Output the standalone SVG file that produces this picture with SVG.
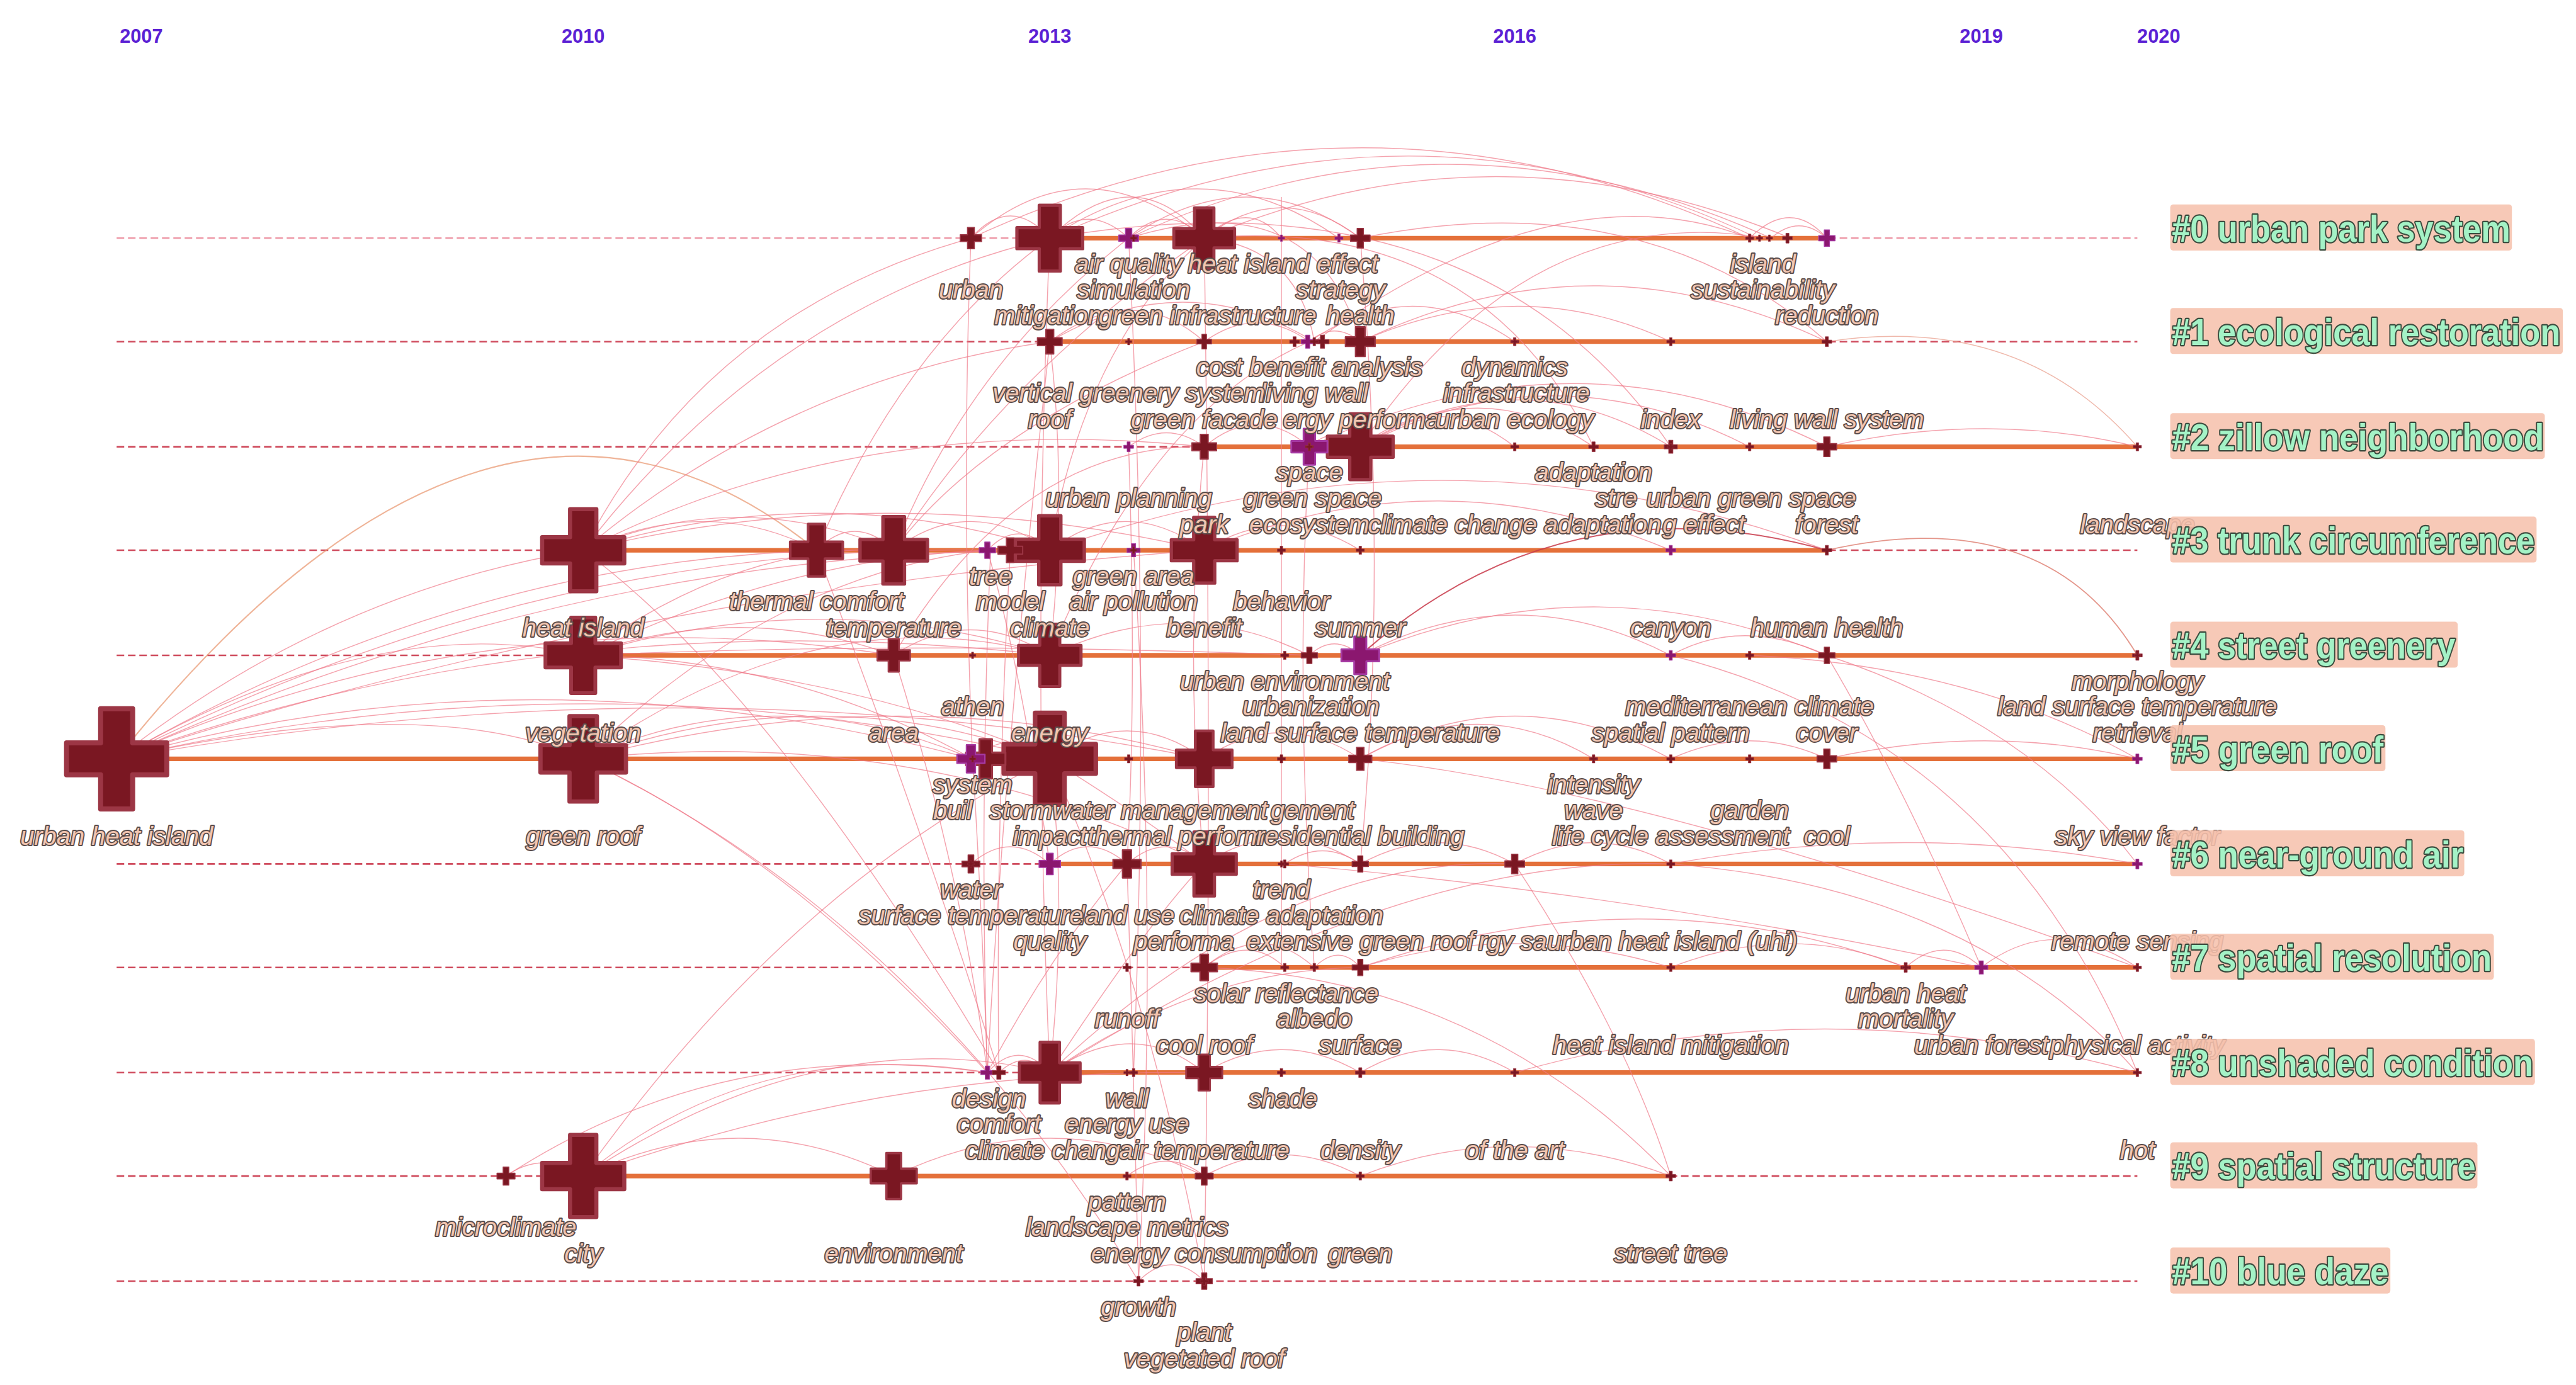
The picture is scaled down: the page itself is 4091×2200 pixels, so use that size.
<svg xmlns="http://www.w3.org/2000/svg" width="4091" height="2200" viewBox="0 0 4091 2200">
<defs>
<style>
.k{font-family:"Liberation Sans",Arial,sans-serif;font-style:italic;font-size:15.3px;fill:#f2c5b0;stroke:#5a4c4a;stroke-width:1.5px;paint-order:stroke fill;stroke-linejoin:round;text-anchor:middle}
.ks{text-anchor:start}
.d{fill:#7a1722;stroke:#9c3645;stroke-width:5;stroke-linejoin:round}
.m{fill:#8b176f;stroke:#a63aa3;stroke-width:5;stroke-linejoin:round}
.yr{font-family:"Liberation Sans",Arial,sans-serif;font-weight:bold;font-size:11.8px;fill:#5b21d4;text-anchor:middle}
.dash{stroke:#cf4b5d;stroke-width:1;stroke-dasharray:4.6 2.3;fill:none}
.tl{stroke:#e4703a;stroke-width:2.8;fill:none}
.cb{fill:#f6c1ad;opacity:.88}
.ct{font-family:"Liberation Sans",Arial,sans-serif;font-weight:bold;font-size:20.2px;fill:#a4f2c6;stroke:#3b4d3f;stroke-width:1.5px;paint-order:stroke fill;stroke-linejoin:round}
#connectors path{fill:none;stroke:#f07a8a;stroke-width:.55;opacity:.7}
</style>
<path id="p" d="M-16,-50H16V-16H50V16H16V50H-16V16H-50V-16H-16Z"/>
</defs>
<rect width="4091" height="2200" fill="#ffffff"/>
<g transform="scale(2.60906)">
<g id="years">
<text class="yr" x="86" y="26">2007</text>
<text class="yr" x="355" y="26">2010</text>
<text class="yr" x="639" y="26">2013</text>
<text class="yr" x="922" y="26">2016</text>
<text class="yr" x="1206" y="26">2019</text>
<text class="yr" x="1314" y="26">2020</text>
</g>
<g id="timelines">
<line class="dash" x1="71" y1="145" x2="1301" y2="145" style="stroke:#ee9aa8"/>
<line class="dash" x1="71" y1="208" x2="1301" y2="208"/>
<line class="dash" x1="71" y1="272" x2="1301" y2="272"/>
<line class="dash" x1="71" y1="335" x2="1301" y2="335"/>
<line class="dash" x1="71" y1="399" x2="1301" y2="399"/>
<line class="dash" x1="71" y1="462" x2="1301" y2="462"/>
<line class="dash" x1="71" y1="526" x2="1301" y2="526"/>
<line class="dash" x1="71" y1="589" x2="1301" y2="589"/>
<line class="dash" x1="71" y1="653" x2="1301" y2="653"/>
<line class="dash" x1="71" y1="716" x2="1301" y2="716"/>
<line class="dash" x1="71" y1="780" x2="1301" y2="780"/>
<line class="tl" x1="639" y1="145" x2="1112" y2="145"/>
<line class="tl" x1="639" y1="208" x2="1112" y2="208"/>
<line class="tl" x1="733" y1="272" x2="1301" y2="272"/>
<line class="tl" x1="355" y1="335" x2="1112" y2="335"/>
<line class="tl" x1="355" y1="399" x2="1301" y2="399"/>
<line class="tl" x1="71" y1="462" x2="1301" y2="462"/>
<line class="tl" x1="639" y1="526" x2="1301" y2="526"/>
<line class="tl" x1="733" y1="589" x2="1301" y2="589"/>
<line class="tl" x1="639" y1="653" x2="1301" y2="653"/>
<line class="tl" x1="355" y1="716" x2="1017" y2="716"/>
</g>
<g id="connectors">
<path d="M71,462 Q300,175 497,335" style="stroke:#e8946c;stroke-width:.8"/>
<path d="M71,462 Q200,360 355,335"/>
<path d="M71,462 Q230,370 355,399"/>
<path d="M71,462 Q300,330 544,335"/>
<path d="M71,462 Q330,330 601,335"/>
<path d="M71,462 Q350,335 639,335"/>
<path d="M71,462 Q300,360 544,399"/>
<path d="M71,462 Q340,365 639,399"/>
<path d="M71,462 Q320,390 592,462"/>
<path d="M71,462 Q360,395 639,462"/>
<path d="M71,462 Q420,400 733,462"/>
<path d="M71,462 Q260,420 355,462"/>
<path d="M71,462 Q380,360 733,335"/>
<path d="M355,335 Q430,190 591,145"/>
<path d="M355,335 Q470,185 639,145"/>
<path d="M355,335 Q480,230 639,208"/>
<path d="M355,335 Q520,250 733,272"/>
<path d="M355,335 Q430,300 497,335"/>
<path d="M355,335 Q450,295 544,335"/>
<path d="M355,335 Q500,290 639,335"/>
<path d="M355,335 Q540,290 733,335"/>
<path d="M355,335 Q470,420 608,653"/>
<path d="M355,399 Q450,330 544,335"/>
<path d="M355,399 Q500,330 639,335"/>
<path d="M355,399 Q450,365 544,399"/>
<path d="M355,399 Q500,355 639,399"/>
<path d="M355,399 Q560,390 797,399"/>
<path d="M355,399 Q480,400 592,462"/>
<path d="M355,399 Q520,410 639,462"/>
<path d="M355,462 Q470,410 592,462"/>
<path d="M355,462 Q500,410 639,462"/>
<path d="M355,462 Q550,410 733,462"/>
<path d="M355,462 Q560,440 733,526"/>
<path d="M355,462 Q480,520 601,653"/>
<path d="M355,462 Q560,560 693,780"/>
<path d="M355,462 Q470,350 601,335"/>
<path d="M355,462 Q500,360 639,399"/>
<path d="M355,716 Q460,630 601,653"/>
<path d="M355,716 Q500,620 639,653"/>
<path d="M355,716 Q480,540 639,462"/>
<path d="M355,716 Q540,650 733,653"/>
<path d="M308,716 Q440,630 601,653"/>
<path d="M308,716 Q330,700 355,716"/>
<path d="M497,335 Q550,210 639,145"/>
<path d="M544,335 Q590,220 687,145"/>
<path d="M544,335 Q610,230 733,145"/>
<path d="M544,335 Q600,260 733,208"/>
<path d="M544,399 Q620,270 733,272"/>
<path d="M639,335 Q660,210 733,145"/>
<path d="M639,399 Q700,250 797,208"/>
<path d="M603,335 Q596,500 601,653"/>
<path d="M615,335 Q606,500 608,653"/>
<path d="M639,145 Q628,400 639,653"/>
<path d="M591,145 Q585,300 592,462"/>
<path d="M639,208 Q612,450 601,653"/>
<path d="M687,145 Q700,400 690,653"/>
<path d="M690,335 Q705,560 693,780"/>
<path d="M733,145 Q738,480 733,780"/>
<path d="M780,120 L780,589"/>
<path d="M687,272 Q692,420 686,526"/>
<path d="M733,272 Q720,400 733,526"/>
<path d="M797,272 Q788,420 800,589"/>
<path d="M828,145 Q845,350 828,526"/>
<path d="M639,208 Q650,300 639,399"/>
<path d="M601,335 Q620,400 639,526"/>
<path d="M592,462 Q598,560 601,653"/>
<path d="M544,399 Q585,530 601,653"/>
<path d="M497,335 Q560,500 608,653"/>
<path d="M639,462 Q700,600 733,780"/>
<path d="M686,526 Q690,650 693,780"/>
<path d="M591,145 Q830,35 1065,145"/>
<path d="M639,145 Q860,45 1070,145"/>
<path d="M687,145 Q880,55 1078,145"/>
<path d="M733,145 Q910,70 1090,145"/>
<path d="M591,145 Q615,118 639,145"/>
<path d="M639,145 Q662,122 687,145"/>
<path d="M687,145 Q710,122 733,145"/>
<path d="M639,145 Q690,95 733,145"/>
<path d="M591,145 Q660,85 733,145"/>
<path d="M687,145 Q760,95 828,145"/>
<path d="M733,145 Q780,108 828,145"/>
<path d="M639,145 Q730,85 815,145"/>
<path d="M733,145 Q760,120 780,145"/>
<path d="M1065,145 Q1090,120 1112,145"/>
<path d="M1078,145 Q1095,130 1112,145"/>
<path d="M800,208 Q950,100 1065,145"/>
<path d="M828,272 Q930,120 1075,145"/>
<path d="M733,145 Q900,130 970,272"/>
<path d="M828,145 Q1000,110 1112,208"/>
<path d="M639,145 Q900,100 1017,272"/>
<path d="M687,145 Q800,110 828,208"/>
<path d="M733,145 Q790,150 800,208"/>
<path d="M639,208 Q690,170 733,208"/>
<path d="M733,208 Q765,185 797,208"/>
<path d="M797,208 Q812,195 828,208"/>
<path d="M797,208 Q860,165 922,208"/>
<path d="M828,208 Q925,165 1017,208"/>
<path d="M828,208 Q970,140 1112,208"/>
<path d="M1112,208 Q1230,190 1301,272" style="stroke:#e89a88"/>
<path d="M639,208 Q720,160 800,208"/>
<path d="M733,272 Q765,245 797,272"/>
<path d="M797,272 Q812,258 828,272"/>
<path d="M828,272 Q875,235 922,272"/>
<path d="M828,272 Q900,225 970,272"/>
<path d="M828,272 Q925,215 1017,272"/>
<path d="M828,272 Q945,210 1065,272"/>
<path d="M797,272 Q960,195 1112,272"/>
<path d="M1112,272 Q1210,250 1301,272"/>
<path d="M687,272 Q710,255 733,272"/>
<path d="M497,335 Q520,312 544,335"/>
<path d="M544,335 Q590,300 639,335"/>
<path d="M601,335 Q620,315 639,335"/>
<path d="M639,335 Q685,300 733,335"/>
<path d="M733,335 Q780,305 828,335"/>
<path d="M733,335 Q875,275 1017,335"/>
<path d="M828,399 Q950,290 1112,335" style="stroke:#c83a4a;stroke-width:.8;opacity:.85"/>
<path d="M1112,335 Q1245,305 1301,399" style="stroke:#d86a5a;stroke-width:.7"/>
<path d="M639,335 Q880,250 1112,335"/>
<path d="M544,399 Q590,368 639,399"/>
<path d="M639,399 Q720,360 797,399"/>
<path d="M797,399 Q812,385 828,399"/>
<path d="M828,399 Q922,350 1017,399"/>
<path d="M828,399 Q970,340 1112,399"/>
<path d="M1017,399 Q1060,375 1112,399"/>
<path d="M1065,399 Q1200,405 1301,462"/>
<path d="M1112,399 Q1160,480 1206,589"/>
<path d="M1112,399 Q1235,440 1301,526"/>
<path d="M1017,399 Q1220,450 1301,653"/>
<path d="M592,462 Q615,442 639,462"/>
<path d="M639,462 Q686,428 733,462"/>
<path d="M733,462 Q780,430 828,462"/>
<path d="M828,462 Q900,420 970,462"/>
<path d="M828,462 Q922,410 1017,462"/>
<path d="M1017,462 Q1065,440 1112,462"/>
<path d="M1112,462 Q1210,440 1301,462"/>
<path d="M828,462 Q1000,480 1301,589"/>
<path d="M639,462 Q700,500 733,526"/>
<path d="M591,526 Q615,505 639,526"/>
<path d="M639,526 Q662,505 686,526"/>
<path d="M686,526 Q710,505 733,526"/>
<path d="M733,526 Q780,495 828,526"/>
<path d="M782,526 Q805,510 828,526"/>
<path d="M828,526 Q875,500 922,526"/>
<path d="M922,526 Q970,500 1017,526"/>
<path d="M1017,526 Q1200,540 1301,653"/>
<path d="M922,526 Q990,630 1017,716"/>
<path d="M1017,526 Q1160,500 1301,526"/>
<path d="M733,589 Q760,568 782,589"/>
<path d="M733,589 Q768,560 800,589"/>
<path d="M800,589 Q815,574 828,589"/>
<path d="M828,589 Q922,560 1017,589"/>
<path d="M1017,589 Q1090,560 1160,589"/>
<path d="M1160,589 Q1183,568 1206,589"/>
<path d="M1206,589 Q1250,555 1301,589"/>
<path d="M828,589 Q1000,530 1160,589"/>
<path d="M782,526 Q1000,545 1206,589"/>
<path d="M733,589 Q900,595 1017,716"/>
<path d="M601,653 Q620,632 639,653"/>
<path d="M608,653 Q624,638 639,653"/>
<path d="M639,653 Q690,618 733,653"/>
<path d="M733,653 Q780,625 828,653"/>
<path d="M828,653 Q875,625 922,653"/>
<path d="M639,653 Q700,560 733,526"/>
<path d="M639,653 Q730,590 828,589"/>
<path d="M639,653 Q780,520 922,526"/>
<path d="M639,653 Q850,520 1017,526"/>
<path d="M922,653 Q1110,600 1301,653"/>
<path d="M601,653 Q640,580 686,526"/>
<path d="M639,653 Q650,550 639,462"/>
<path d="M355,716 Q450,670 544,716"/>
<path d="M544,716 Q640,670 733,716"/>
<path d="M686,716 Q710,698 733,716"/>
<path d="M733,716 Q780,690 828,716"/>
<path d="M828,716 Q920,680 1017,716"/>
<path d="M693,780 Q713,760 733,780"/>
</g>
<g id="nodes">
<!-- row 10 -->
<g id="n-plant"><use href="#p" class="d" transform="translate(733 780) scale(.1)"/><text class="k" x="733" y="816.5">plant</text></g>
<g id="n-vegetated-roof"><use href="#p" class="d" transform="translate(733 780) scale(.05)"/><text class="k" x="733" y="832.5">vegetated roof</text></g>
<g id="n-growth"><use href="#p" class="d" transform="translate(693 780) scale(.06)"/><text class="k" x="693" y="801">growth</text></g>
<!-- row 9 -->
<g id="n-city"><use href="#p" class="d" transform="translate(355 716) scale(.5)"/><text class="k" x="355" y="768.5">city</text></g>
<g id="n-environment"><use href="#p" class="d" transform="translate(544 716) scale(.28)"/><text class="k" x="544" y="768.5">environment</text></g>
<g id="n-microclimate"><use href="#p" class="d" transform="translate(308 716) scale(.11)"/><text class="k" x="308" y="752.5">microclimate</text></g>
<g id="n-energy-consumption"><use href="#p" class="d" transform="translate(733 716) scale(.11)"/><text class="k" x="733" y="768.5">energy consumption</text></g>
<g id="n-pattern"><use href="#p" class="d" transform="translate(686 716) scale(.05)"/><text class="k" x="686" y="737">pattern</text></g>
<g id="n-landscape-metrics"><use href="#p" class="d" transform="translate(686 716) scale(.04)"/><text class="k" x="686" y="752.5">landscape metrics</text></g>
<g id="n-green"><use href="#p" class="d" transform="translate(828 716) scale(.05)"/><text class="k" x="828" y="768.5">green</text></g>
<g id="n-street-tree"><use href="#p" class="d" transform="translate(1017 716) scale(.06)"/><text class="k" x="1017" y="768.5">street tree</text></g>
<!-- row 8 -->
<g id="n-climate-change"><use href="#p" class="d" transform="translate(639 653) scale(.37)"/><text class="k ks" x="587.5" y="705.5">climate chang</text></g>
<g id="n-air-temperature"><use href="#p" class="d" transform="translate(733 653) scale(.22)"/><text class="k" x="733" y="705.5">air temperature</text></g>
<g id="n-design"><use href="#p" class="m" transform="translate(601 653) scale(.08)"/><text class="k" x="602" y="674">design</text></g>
<g id="n-comfort"><use href="#p" class="d" transform="translate(608 653) scale(.08)"/><text class="k" x="608" y="689.5">comfort</text></g>
<g id="n-wall"><use href="#p" class="d" transform="translate(690 653) scale(.05)"/><text class="k" x="686" y="674">wall</text></g>
<g id="n-energy-use"><use href="#p" class="d" transform="translate(686 653) scale(.04)"/><text class="k" x="686" y="689.5">energy use</text></g>
<g id="n-shade"><use href="#p" class="d" transform="translate(780 653) scale(.05)"/><text class="k" x="781" y="674">shade</text></g>
<g id="n-density"><use href="#p" class="d" transform="translate(828 653) scale(.06)"/><text class="k" x="828" y="705.5">density</text></g>
<g id="n-of-the-art"><use href="#p" class="d" transform="translate(922 653) scale(.05)"/><text class="k" x="922" y="705.5">of the art</text></g>
<g id="n-hot"><use href="#p" class="d" transform="translate(1301 653) scale(.05)"/><text class="k" x="1301" y="705.5">hot</text></g>
<!-- row 7 -->
<g id="n-cool-roof"><use href="#p" class="d" transform="translate(733 589) scale(.16)"/><text class="k" x="733" y="641.5">cool roof</text></g>
<g id="n-surface"><use href="#p" class="d" transform="translate(828 589) scale(.1)"/><text class="k" x="828" y="641.5">surface</text></g>
<g id="n-urban-forest"><use href="#p" class="m" transform="translate(1206 589) scale(.08)"/><text class="k" x="1206" y="641.5">urban forest</text></g>
<g id="n-runoff"><use href="#p" class="d" transform="translate(686 589) scale(.05)"/><text class="k" x="686" y="625.5">runoff</text></g>
<g id="n-solar-reflectance"><use href="#p" class="d" transform="translate(782 589) scale(.05)"/><text class="k" x="783" y="610">solar reflectance</text></g>
<g id="n-albedo"><use href="#p" class="d" transform="translate(800 589) scale(.05)"/><text class="k" x="800" y="625.5">albedo</text></g>
<g id="n-heat-island-mitigation"><use href="#p" class="d" transform="translate(1017 589) scale(.05)"/><text class="k" x="1017" y="641.5">heat island mitigation</text></g>
<g id="n-urban-heat"><use href="#p" class="d" transform="translate(1160 589) scale(.06)"/><text class="k" x="1160" y="610">urban heat</text></g>
<g id="n-mortality"><use href="#p" class="d" transform="translate(1160 589) scale(.04)"/><text class="k" x="1160" y="625.5">mortality</text></g>
<g id="n-physical-activity"><use href="#p" class="d" transform="translate(1301 589) scale(.05)"/><text class="k" x="1301" y="641.5">physical activity</text></g>
<!-- row 6 -->
<g id="n-performance"><use href="#p" class="d" transform="translate(733 526) scale(.39)"/><text class="k ks" x="690" y="578.5">performa</text></g>
<g id="n-land-use"><use href="#p" class="d" transform="translate(686 526) scale(.17)"/><text class="k" x="686" y="562.5">land use</text></g>
<g id="n-quality"><use href="#p" class="m" transform="translate(639 526) scale(.13)"/><text class="k" x="639" y="578.5">quality</text></g>
<g id="n-energy-saving"><use href="#p" class="d" transform="translate(922 526) scale(.12)"/><text class="k ks" x="900" y="578.5">rgy sa</text></g>
<g id="n-water"><use href="#p" class="d" transform="translate(591 526) scale(.11)"/><text class="k" x="591" y="547">water</text></g>
<g id="n-surface-temperature"><use href="#p" class="d" transform="translate(591 526) scale(.04)"/><text class="k" x="591" y="562.5">surface temperature</text></g>
<g id="n-extensive-green-roof"><use href="#p" class="d" transform="translate(828 526) scale(.1)"/><text class="k" x="828" y="578.5">extensive green roof</text></g>
<g id="n-trend"><use href="#p" class="d" transform="translate(782 526) scale(.05)"/><text class="k" x="780" y="547">trend</text></g>
<g id="n-climate-adaptation"><use href="#p" class="d" transform="translate(780 526) scale(.04)"/><text class="k" x="780" y="562.5">climate adaptation</text></g>
<g id="n-urban-heat-island-uhi"><use href="#p" class="d" transform="translate(1017 526) scale(.05)"/><text class="k" x="1018" y="578.5">urban heat island (uhi)</text></g>
<g id="n-remote-sensing"><use href="#p" class="m" transform="translate(1301 526) scale(.06)"/><text class="k" x="1301" y="578.5">remote sensing</text></g>
<!-- row 5 -->
<g id="n-urban-heat-island"><use href="#p" class="d" transform="translate(71 462) scale(.61)"/><text class="k" x="71" y="514.5">urban heat island</text></g>
<g id="n-impact"><use href="#p" class="d" transform="translate(639 462) scale(.56)"/><text class="k" x="639" y="514.5">impact</text></g>
<g id="n-green-roof"><use href="#p" class="d" transform="translate(355 462) scale(.52)"/><text class="k" x="355" y="514.5">green roof</text></g>
<g id="n-thermal-performance"><use href="#p" class="d" transform="translate(733 462) scale(.34)"/><text class="k ks" x="662" y="514.5">thermal perform</text></g>
<g id="n-system"><use href="#p" class="d" transform="translate(600 462) scale(.24)"/><use href="#p" class="m" transform="translate(591 462) scale(.17)"/><text class="k" x="592" y="483">system</text></g>
<g id="n-residential-building"><use href="#p" class="d" transform="translate(828 462) scale(.14)"/><text class="k" x="828" y="514.5">residential building</text></g>
<g id="n-cool"><use href="#p" class="d" transform="translate(1112 462) scale(.12)"/><text class="k" x="1112" y="514.5">cool</text></g>
<g id="n-building"><use href="#p" class="d" transform="translate(592 462) scale(.04)"/><text class="k ks" x="568" y="498.5">buil</text></g>
<g id="n-stormwater-management"><use href="#p" class="d" transform="translate(687 462) scale(.05)"/><text class="k" x="687" y="498.5">stormwater management</text></g>
<g id="n-management"><use href="#p" class="d" transform="translate(780 462) scale(.05)"/><text class="k ks" x="773.5" y="498.5">gement</text></g>
<g id="n-intensity"><use href="#p" class="d" transform="translate(970 462) scale(.05)"/><text class="k" x="970" y="483">intensity</text></g>
<g id="n-wave"><use href="#p" class="d" transform="translate(970 462) scale(.04)"/><text class="k" x="970" y="498.5">wave</text></g>
<g id="n-garden"><use href="#p" class="d" transform="translate(1065 462) scale(.05)"/><text class="k" x="1065" y="498.5">garden</text></g>
<g id="n-life-cycle-assessment"><use href="#p" class="d" transform="translate(1017 462) scale(.05)"/><text class="k" x="1017" y="514.5">life cycle assessment</text></g>
<g id="n-sky-view-factor"><use href="#p" class="m" transform="translate(1301 462) scale(.06)"/><text class="k" x="1301" y="514.5">sky view factor</text></g>
<!-- row 4 -->
<g id="n-vegetation"><use href="#p" class="d" transform="translate(355 399) scale(.46)"/><text class="k" x="355" y="451.5">vegetation</text></g>
<g id="n-energy"><use href="#p" class="d" transform="translate(639 399) scale(.38)"/><text class="k" x="639" y="451.5">energy</text></g>
<g id="n-land-surface-temperature"><use href="#p" class="m" transform="translate(828 399) scale(.23)"/><text class="k" x="828" y="451.5">land surface temperature</text></g>
<g id="n-area"><use href="#p" class="d" transform="translate(544 399) scale(.2)"/><text class="k" x="544" y="451.5">area</text></g>
<g id="n-urbanization"><use href="#p" class="d" transform="translate(797 399) scale(.1)"/><text class="k" x="798" y="435.5">urbanization</text></g>
<g id="n-cover"><use href="#p" class="d" transform="translate(1112 399) scale(.1)"/><text class="k" x="1112" y="451.5">cover</text></g>
<g id="n-athen"><use href="#p" class="d" transform="translate(592 399) scale(.04)"/><text class="k" x="592" y="435.5">athen</text></g>
<g id="n-urban-environment"><use href="#p" class="d" transform="translate(782 399) scale(.05)"/><text class="k" x="782" y="420">urban environment</text></g>
<g id="n-mediterranean-climate"><use href="#p" class="d" transform="translate(1065 399) scale(.05)"/><text class="k" x="1065" y="435.5">mediterranean climate</text></g>
<g id="n-spatial-pattern"><use href="#p" class="m" transform="translate(1017 399) scale(.06)"/><text class="k" x="1017" y="451.5">spatial pattern</text></g>
<g id="n-morphology"><use href="#p" class="d" transform="translate(1301 399) scale(.06)"/><text class="k" x="1301" y="420">morphology</text></g>
<g id="n-land-surface-temperature-2"><use href="#p" class="d" transform="translate(1301 399) scale(.04)"/><text class="k" x="1301" y="435.5">land surface temperature</text></g>
<g id="n-retrieval"><use href="#p" class="d" transform="translate(1301 399) scale(.03)"/><text class="k" x="1301" y="451.5">retrieval</text></g>
<!-- row 3 -->
<g id="n-heat-island"><use href="#p" class="d" transform="translate(355 335) scale(.5)"/><text class="k" x="355" y="387.5">heat island</text></g>
<g id="n-climate"><use href="#p" class="d" transform="translate(639 335) scale(.42)"/><text class="k" x="639" y="387.5">climate</text></g>
<g id="n-temperature"><use href="#p" class="d" transform="translate(544 335) scale(.41)"/><text class="k" x="544" y="387.5">temperature</text></g>
<g id="n-benefit"><use href="#p" class="d" transform="translate(733 335) scale(.4)"/><text class="k" x="733" y="387.5">benefit</text></g>
<g id="n-thermal-comfort"><use href="#p" class="d" transform="translate(497 335) scale(.32)"/><text class="k" x="497" y="371.5">thermal comfort</text></g>
<g id="n-model"><use href="#p" class="d" transform="translate(615 335) scale(.15)"/><text class="k" x="615" y="371.5">model</text></g>
<g id="n-tree"><use href="#p" class="m" transform="translate(601 335) scale(.1)"/><text class="k" x="603" y="356">tree</text></g>
<g id="n-green-area"><use href="#p" class="m" transform="translate(690 335) scale(.08)"/><text class="k" x="690" y="356">green area</text></g>
<g id="n-air-pollution"><use href="#p" class="d" transform="translate(690 335) scale(.04)"/><text class="k" x="690" y="371.5">air pollution</text></g>
<g id="n-behavior"><use href="#p" class="d" transform="translate(780 335) scale(.05)"/><text class="k" x="780" y="371.5">behavior</text></g>
<g id="n-summer"><use href="#p" class="d" transform="translate(828 335) scale(.05)"/><text class="k" x="828" y="387.5">summer</text></g>
<g id="n-canyon"><use href="#p" class="m" transform="translate(1017 335) scale(.06)"/><text class="k" x="1017" y="387.5">canyon</text></g>
<g id="n-human-health"><use href="#p" class="d" transform="translate(1112 335) scale(.06)"/><text class="k" x="1112" y="387.5">human health</text></g>
<!-- row 2 -->
<g id="n-r2-828"><use href="#p" class="d" transform="translate(828 272) scale(.4)"/></g>
<g id="n-space"><use href="#p" class="m" transform="translate(797 272) scale(.22)"/><text class="k" x="797" y="293">space</text></g>
<g id="n-park"><use href="#p" class="d" transform="translate(733 272) scale(.15)"/><text class="k" x="733" y="324.5">park</text></g>
<g id="n-forest"><use href="#p" class="d" transform="translate(1112 272) scale(.12)"/><text class="k" x="1112" y="324.5">forest</text></g>
<g id="n-street"><use href="#p" class="d" transform="translate(1017 272) scale(.08)"/><text class="k ks" x="971" y="308.5">stre</text></g>
<g id="n-green-space"><use href="#p" class="d" transform="translate(797 272) scale(.05)"/><text class="k" x="799" y="308.5">green space</text></g>
<g id="n-ecosystem"><use href="#p" class="d" transform="translate(797 272) scale(.04)"/><text class="k" x="797" y="324.5">ecosystem</text></g>
<g id="n-urban-planning"><use href="#p" class="m" transform="translate(687 272) scale(.06)"/><text class="k" x="687" y="308.5">urban planning</text></g>
<g id="n-adaptation"><use href="#p" class="d" transform="translate(970 272) scale(.06)"/><text class="k" x="970" y="293">adaptation</text></g>
<g id="n-urban-green-space"><use href="#p" class="d" transform="translate(1065 272) scale(.05)"/><text class="k" x="1066" y="308.5">urban green space</text></g>
<g id="n-climate-change-adaptation"><use href="#p" class="d" transform="translate(922 272) scale(.05)"/><text class="k" x="922" y="324.5">climate change adaptation</text></g>
<g id="n-cooling-effect"><use href="#p" class="d" transform="translate(1017 272) scale(.04)"/><text class="k ks" x="1012" y="324.5">g effect</text></g>
<g id="n-landscape"><use href="#p" class="d" transform="translate(1301 272) scale(.05)"/><text class="k" x="1301" y="324.5">landscape</text></g>
<!-- row 1 -->
<g id="n-energy-performance"><use href="#p" class="d" transform="translate(828 208) scale(.18)"/><text class="k ks" x="781" y="260.5">ergy performa</text></g>
<g id="n-roof"><use href="#p" class="d" transform="translate(639 208) scale(.15)"/><text class="k" x="639" y="260.5">roof</text></g>
<g id="n-green-facade"><use href="#p" class="d" transform="translate(733 208) scale(.09)"/><text class="k" x="733" y="260.5">green facade</text></g>
<g id="n-cost-benefit-analysis"><use href="#p" class="d" transform="translate(788 208) scale(.06)"/><use href="#p" class="m" transform="translate(796 208) scale(.08)"/><use href="#p" class="d" transform="translate(805 208) scale(.08)"/><text class="k" x="797" y="229">cost benefit analysis</text></g>
<g id="n-living-wall"><use href="#p" class="d" transform="translate(800 208) scale(.05)"/><text class="k" x="800" y="244.5">living wall</text></g>
<g id="n-vertical-greenery-system"><use href="#p" class="d" transform="translate(687 208) scale(.04)"/><text class="k" x="687" y="244.5">vertical greenery system</text></g>
<g id="n-dynamics"><use href="#p" class="d" transform="translate(922 208) scale(.05)"/><text class="k" x="922" y="229">dynamics</text></g>
<g id="n-infrastructure"><use href="#p" class="d" transform="translate(922 208) scale(.04)"/><text class="k" x="923" y="244.5">infrastructure</text></g>
<g id="n-urban-ecology"><use href="#p" class="d" transform="translate(922 208) scale(.03)"/><text class="k" x="922" y="260.5">urban ecology</text></g>
<g id="n-index"><use href="#p" class="d" transform="translate(1017 208) scale(.05)"/><text class="k" x="1017" y="260.5">index</text></g>
<g id="n-living-wall-system"><use href="#p" class="d" transform="translate(1112 208) scale(.06)"/><text class="k" x="1112" y="260.5">living wall system</text></g>
<!-- row 0 -->
<g id="n-mitigation"><use href="#p" class="d" transform="translate(639 145) scale(.4)"/><text class="k" x="638" y="197.5">mitigation</text></g>
<g id="n-green-infrastructure"><use href="#p" class="d" transform="translate(733 145) scale(.37)"/><text class="k" x="735" y="197.5">green infrastructure</text></g>
<g id="n-urban"><use href="#p" class="d" transform="translate(591 145) scale(.13)"/><text class="k" x="591" y="181.5">urban</text></g>
<g id="n-air-quality"><use href="#p" class="m" transform="translate(687 145) scale(.12)"/><text class="k" x="687" y="166">air quality</text></g>
<g id="n-health"><use href="#p" class="d" transform="translate(828 145) scale(.12)"/><text class="k" x="828" y="197.5">health</text></g>
<g id="n-reduction"><use href="#p" class="m" transform="translate(1112 145) scale(.1)"/><text class="k" x="1112" y="197.5">reduction</text></g>
<g id="n-simulation"><use href="#p" class="d" transform="translate(690 145) scale(.04)"/><text class="k" x="690" y="181.5">simulation</text></g>
<g id="n-heat-island-effect"><use href="#p" class="m" transform="translate(780 145) scale(.04)"/><text class="k" x="781" y="166">heat island effect</text></g>
<g id="n-strategy"><use href="#p" class="m" transform="translate(815 145) scale(.05)"/><text class="k" x="816" y="181.5">strategy</text></g>
<g id="n-island"><use href="#p" class="d" transform="translate(1065 145) scale(.05)"/><use href="#p" class="d" transform="translate(1071 145) scale(.04)"/><use href="#p" class="d" transform="translate(1077 145) scale(.04)"/><text class="k" x="1073" y="166">island</text></g>
<g id="n-sustainability"><use href="#p" class="d" transform="translate(1088 145) scale(.06)"/><text class="k" x="1073" y="181.5">sustainability</text></g>
</g>
<g id="clusters">
<g id="c0"><rect class="cb" x="1321" y="124.5" width="208" height="28" rx="1.8"/><text class="ct" transform="translate(1322 147) scale(1 1.14)" textLength="206" lengthAdjust="spacingAndGlyphs">#0 urban park system</text></g>
<g id="c1"><rect class="cb" x="1321" y="187.5" width="239" height="28" rx="1.8"/><text class="ct" transform="translate(1322 210) scale(1 1.14)" textLength="236.5" lengthAdjust="spacingAndGlyphs">#1 ecological restoration</text></g>
<g id="c2"><rect class="cb" x="1321" y="251.5" width="228" height="28" rx="1.8"/><text class="ct" transform="translate(1322 274) scale(1 1.14)" textLength="226.5" lengthAdjust="spacingAndGlyphs">#2 zillow neighborhood</text></g>
<g id="c3"><rect class="cb" x="1321" y="314.5" width="223" height="28" rx="1.8"/><text class="ct" transform="translate(1322 337) scale(1 1.14)" textLength="220.8" lengthAdjust="spacingAndGlyphs">#3 trunk circumference</text></g>
<g id="c4"><rect class="cb" x="1321" y="378.5" width="175" height="28" rx="1.8"/><text class="ct" transform="translate(1322 401) scale(1 1.14)" textLength="172.5" lengthAdjust="spacingAndGlyphs">#4 street greenery</text></g>
<g id="c5"><rect class="cb" x="1321" y="441.5" width="131" height="28" rx="1.8"/><text class="ct" transform="translate(1322 464) scale(1 1.14)" textLength="128.8" lengthAdjust="spacingAndGlyphs">#5 green roof</text></g>
<g id="c6"><rect class="cb" x="1321" y="505.5" width="179" height="28" rx="1.8"/><text class="ct" transform="translate(1322 528) scale(1 1.14)" textLength="177.5" lengthAdjust="spacingAndGlyphs">#6 near-ground air</text></g>
<g id="c7"><rect class="cb" x="1321" y="568.5" width="197" height="28" rx="1.8"/><text class="ct" transform="translate(1322 591) scale(1 1.14)" textLength="194.7" lengthAdjust="spacingAndGlyphs">#7 spatial resolution</text></g>
<g id="c8"><rect class="cb" x="1321" y="632.5" width="222" height="28" rx="1.8"/><text class="ct" transform="translate(1322 655) scale(1 1.14)" textLength="220" lengthAdjust="spacingAndGlyphs">#8 unshaded condition</text></g>
<g id="c9"><rect class="cb" x="1321" y="695.5" width="187" height="28" rx="1.8"/><text class="ct" transform="translate(1322 718) scale(1 1.14)" textLength="185" lengthAdjust="spacingAndGlyphs">#9 spatial structure</text></g>
<g id="c10"><rect class="cb" x="1321" y="759.5" width="134" height="28" rx="1.8"/><text class="ct" transform="translate(1322 782) scale(1 1.14)" textLength="131.9" lengthAdjust="spacingAndGlyphs">#10 blue daze</text></g>
</g>
</g>
</svg>
